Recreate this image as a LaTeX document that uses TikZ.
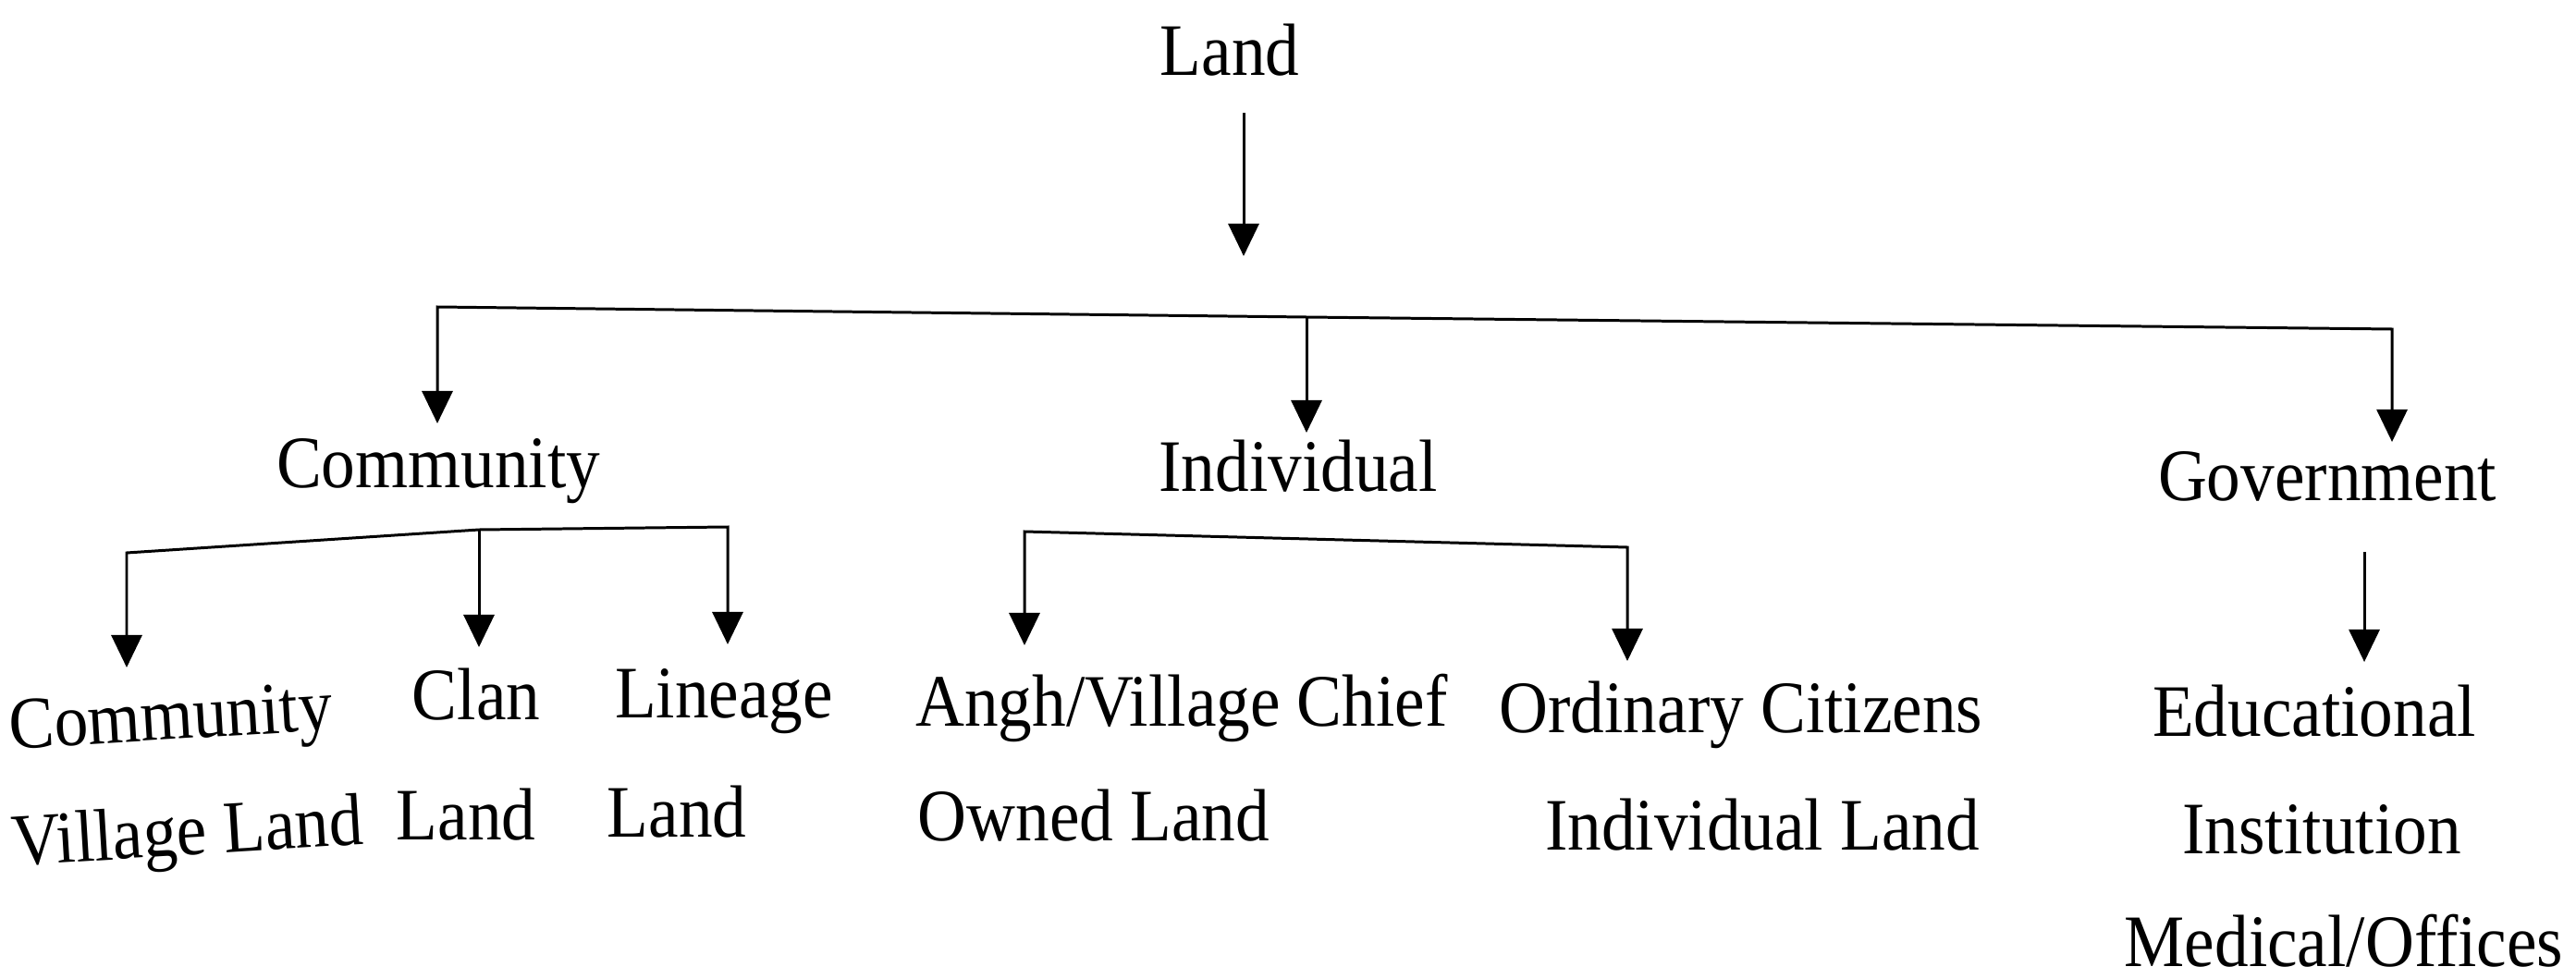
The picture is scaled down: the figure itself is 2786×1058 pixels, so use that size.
\documentclass[tikz,border=0pt]{standalone}
\usepackage{fontspec}
\newfontfamily\dfont[FakeStretch=0.915]{Liberation Serif}
\usetikzlibrary{arrows.meta}
\begin{document}
\begin{tikzpicture}[x=0.01cm,y=-0.01cm,
  lbl/.style={inner sep=0pt,anchor=base,font=\dfont\fontsize{22.76pt}{27pt}\selectfont},
  conn/.style={line width=0.85pt,line join=miter},
  arr/.style={conn,-{Triangle[length=0.35cm,width=0.33cm]}},
  both/.style={conn,{Triangle[length=0.35cm,width=0.33cm]}-{Triangle[length=0.35cm,width=0.33cm]}}]
\useasboundingbox[fill=white] (0,0) rectangle (2786,1058);

% texts
\node[lbl] (land) at (1330,82) {Land};
\node[lbl] (comm) at (474,527) {Community};
\node[lbl] (indiv) at (1404,531) {Individual};
\node[lbl] (gov) at (2517,541) {Government};

\node[lbl,rotate=3.5] (cv1) at (186,800) {Community};
\node[lbl,rotate=3.5] (cv2) at (204,925) {Village Land};
\node[lbl] (clan1) at (515,778) {Clan};
\node[lbl] (clan2) at (504,908) {Land};
\node[lbl] (lin1) at (783,776) {Lineage};
\node[lbl] (lin2) at (732,905) {Land};
\node[lbl] (ang1) at (1278,785) {Angh/Village Chief};
\node[lbl] (ang2) at (1183,909) {Owned Land};
\node[lbl] (ord1) at (1883,792) {Ordinary Citizens};
\node[lbl] (ord2) at (1906,919) {Individual Land};
\node[lbl] (edu1) at (2503,796) {Educational};
\node[lbl] (edu2) at (2511,923) {Institution};
\node[lbl] (edu3) at (2535,1045) {Medical/Offices};

% connector points
\coordinate (l1) at (1345,122);
\coordinate (l2) at (1345,277);
\coordinate (tl) at (473,332);
\coordinate (tm) at (1413,343);
\coordinate (tr) at (2587,356);
\coordinate (ctip) at (473,458);
\coordinate (itip) at (1413,468);
\coordinate (gtip) at (2587,478);
\coordinate (cb1) at (137,598);
\coordinate (cb2) at (518,573);
\coordinate (cb3) at (787,570);
\coordinate (cvtip) at (137,722);
\coordinate (clantip) at (518,700);
\coordinate (lintip) at (787,697);
\coordinate (ib1) at (1108,575);
\coordinate (ib2) at (1760,592);
\coordinate (angtip) at (1108,698);
\coordinate (ordtip) at (1760,715);
\coordinate (g1) at (2557,597);
\coordinate (g2) at (2557,716);

% connectors
\draw[arr] (l1) -- (l2);
\draw[both] (ctip) -- (tl) -- (tm) -- (tr) -- (gtip);
\draw[arr] (tm) -- (itip);
\draw[both] (cvtip) -- (cb1) -- (cb2) -- (cb3) -- (lintip);
\draw[arr] (cb2) -- (clantip);
\draw[both] (angtip) -- (ib1) -- (ib2) -- (ordtip);
\draw[arr] (g1) -- (g2);
\end{tikzpicture}
\end{document}
